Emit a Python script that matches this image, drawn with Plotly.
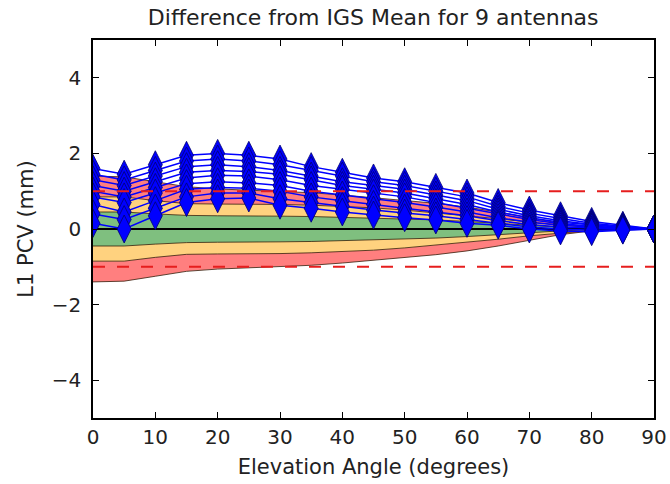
import plotly.graph_objects as go

elev = [0, 5, 10, 15, 20, 25, 30, 35, 40, 45, 50, 55, 60, 65, 70, 75, 80, 85, 90]

antennas = {
    "ant1": [1.60, 1.45, 1.70, 1.95, 2.00, 1.95, 1.85, 1.65, 1.50, 1.35, 1.25, 1.10, 0.95, 0.70, 0.50, 0.35, 0.20, 0.10, 0.00],
    "ant2": [1.45, 1.30, 1.55, 1.80, 1.85, 1.80, 1.70, 1.55, 1.40, 1.25, 1.15, 1.00, 0.85, 0.60, 0.42, 0.28, 0.15, 0.07, 0.00],
    "ant3": [1.30, 1.15, 1.40, 1.65, 1.70, 1.65, 1.55, 1.40, 1.25, 1.15, 1.05, 0.90, 0.75, 0.52, 0.35, 0.22, 0.12, 0.05, 0.00],
    "ant4": [1.15, 1.00, 1.25, 1.50, 1.55, 1.52, 1.45, 1.30, 1.15, 1.05, 0.95, 0.80, 0.65, 0.45, 0.30, 0.18, 0.10, 0.04, 0.00],
    "ant5": [1.00, 0.85, 1.10, 1.35, 1.42, 1.40, 1.30, 1.15, 1.05, 0.95, 0.85, 0.70, 0.55, 0.38, 0.25, 0.14, 0.07, 0.03, 0.00],
    "ant6": [0.85, 0.70, 0.95, 1.20, 1.25, 1.22, 1.15, 1.00, 0.90, 0.80, 0.70, 0.58, 0.45, 0.30, 0.18, 0.10, 0.05, 0.02, 0.00],
    "ant7": [0.65, 0.45, 0.75, 1.05, 1.10, 1.08, 1.00, 0.85, 0.75, 0.65, 0.55, 0.45, 0.35, 0.22, 0.12, 0.05, 0.02, 0.00, 0.00],
    "ant8": [0.40, 0.25, 0.55, 0.85, 0.95, 0.95, 0.80, 0.70, 0.60, 0.50, 0.42, 0.35, 0.25, 0.15, 0.05, 0.00, -0.03, -0.02, 0.00],
    "ant9": [0.15, 0.00, 0.35, 0.70, 0.80, 0.82, 0.63, 0.55, 0.45, 0.37, 0.30, 0.24, 0.15, 0.10, 0.00, -0.05, -0.07, -0.03, 0.00],
}

# envelope half-widths (1, 2, 3 sigma-like bands)
band1 = [0.45, 0.45, 0.40, 0.36, 0.35, 0.35, 0.34, 0.33, 0.31, 0.29, 0.27, 0.24, 0.20, 0.15, 0.10, 0.05, 0.02, 0.01, 0.00]
band2 = [0.85, 0.85, 0.75, 0.67, 0.66, 0.66, 0.65, 0.63, 0.60, 0.56, 0.50, 0.43, 0.35, 0.27, 0.18, 0.10, 0.04, 0.01, 0.00]
band3 = [1.40, 1.38, 1.25, 1.12, 1.06, 1.03, 1.00, 0.96, 0.90, 0.83, 0.76, 0.68, 0.58, 0.45, 0.30, 0.15, 0.05, 0.02, 0.00]
mean_line = [0.0] * len(elev)
limits = [-1.0, 1.0]

xticks = [0, 10, 20, 30, 40, 50, 60, 70, 80, 90]
yticks = [-4, -2, 0, 2, 4]

RED = "rgba(255,0,0,0.5)"
ORANGE = "rgba(255,165,0,0.5)"
GREEN = "rgba(0,128,0,0.5)"
EDGE = "rgba(40,20,0,0.75)"

fig = go.Figure()

layers = [
    ([-v for v in band3], None),
    ([-v for v in band2], RED),
    ([-v for v in band1], ORANGE),
    (mean_line, GREEN),
    (band1, GREEN),
    (band2, ORANGE),
    (band3, RED),
]
for ys, col in layers:
    fig.add_trace(go.Scatter(
        x=elev, y=ys, mode="lines",
        line=dict(color=EDGE, width=1),
        fill="tonexty" if col else None,
        fillcolor=col,
        hoverinfo="skip", showlegend=False,
    ))

fig.add_trace(go.Scatter(x=elev, y=mean_line, mode="lines",
                         line=dict(color="black", width=1.8),
                         showlegend=False, hoverinfo="skip"))

for name, vals in antennas.items():
    fig.add_trace(go.Scatter(
        x=elev, y=vals, mode="lines+markers", name=name,
        line=dict(color="rgb(0,0,255)", width=1.5),
        marker=dict(symbol="diamond-tall", size=20, color="rgb(0,0,255)",
                    line=dict(color="rgb(0,0,110)", width=0.8)),
        showlegend=False, cliponaxis=True,
    ))

for lim in limits:
    fig.add_trace(go.Scatter(
        x=[elev[0], elev[-1]], y=[lim, lim], mode="lines",
        line=dict(color="rgb(230,30,30)", width=2, dash="12px,12px"),
        showlegend=False, hoverinfo="skip",
    ))

font = "DejaVu Sans, Liberation Sans, sans-serif"
axis_common = dict(
    showgrid=False, zeroline=False, showline=True, linecolor="black",
    linewidth=1.5, mirror="ticks", ticks="inside", ticklen=6,
    tickcolor="black", tickwidth=1, automargin=False,
    tickfont=dict(family=font, size=20, color="#222"),
)

fig.update_layout(
    width=670, height=484,
    margin=dict(l=93, r=16, t=40, b=66),
    paper_bgcolor="white", plot_bgcolor="white",
    title=dict(text="Difference from IGS Mean for 9 antennas",
               x=0.557, xanchor="center", y=0.965, yanchor="middle",
               font=dict(family=font, size=22, color="#222")),
    xaxis=dict(range=[0, 90], tickvals=xticks,
               title=dict(text="Elevation Angle (degrees)", standoff=12,
                          font=dict(family=font, size=21, color="#222")),
               **axis_common),
    yaxis=dict(range=[-5, 5], tickvals=yticks,
               ticktext=[str(t).replace("-", "\u2212") for t in yticks],
               ticklabelstandoff=6,
               title=dict(text="L1 PCV (mm)", standoff=12,
                          font=dict(family=font, size=21, color="#222")),
               **axis_common),
)

fig.write_html("out.html")
